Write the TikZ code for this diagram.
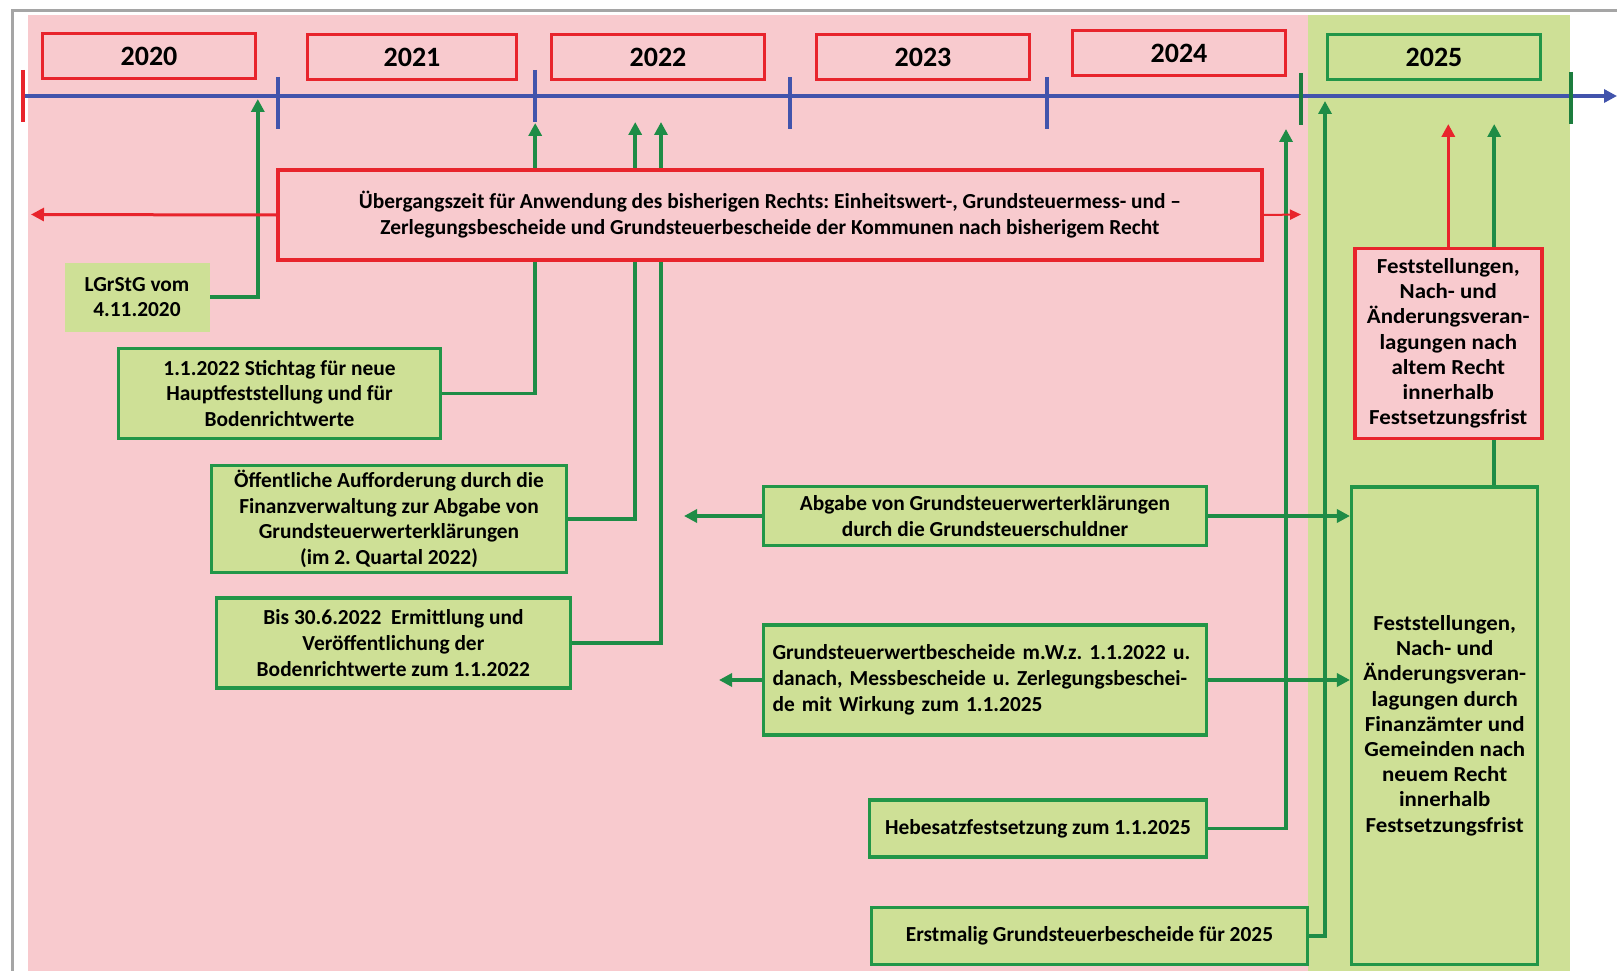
\documentclass[tikz,border=0pt]{standalone}
\usepackage{fontspec}
\setmainfont{Carlito}
\usetikzlibrary{arrows.meta,positioning,backgrounds}
\definecolor{bgpink}{RGB}{248,202,206}
\definecolor{bggreen}{RGB}{206,224,150}
\definecolor{boxred}{RGB}{232,36,44}
\definecolor{boxgreen}{RGB}{34,150,72}
\definecolor{linegreen}{RGB}{30,140,70}
\definecolor{tickgreen}{RGB}{28,125,62}
\definecolor{lineblue}{RGB}{66,84,172}
\definecolor{framegray}{RGB}{165,165,165}
\frenchspacing

\begin{document}
\begin{tikzpicture}[x=1pt,y=-1pt,>={Triangle[length=13pt,width=13pt]},font=\bfseries\fontsize{21.4}{25.8}\selectfont]
        \tikzstyle{yearbox} = [draw=boxred, line width=3.5pt, minimum width=213pt, minimum height=45pt, font=\bfseries\fontsize{28}{30}\selectfont]
        \tikzstyle{redbox} = [draw=boxred, fill=bgpink, line width=3.5pt, align=center, inner sep=0pt]
        \tikzstyle{greenbox} = [draw=boxgreen, fill=bggreen, line width=3.5pt, align=center, inner sep=0pt]
        \tikzstyle{widetext} = [font=\bfseries\fontsize{21.4}{25.2}\selectfont\addfontfeature{FakeStretch=1.07}]
        \tikzstyle{link} = [draw=linegreen, line width=3.5pt]
        \tikzstyle{redlink} = [draw=boxred, line width=3pt]

        \useasboundingbox (0,0) rectangle (1617,971);

        % Background
        \begin{scope}[on background layer]
            \fill[bgpink] (27.8,15.5) rectangle (1307.6,971);
            \fill[bggreen] (1307.6,15.5) rectangle (1569.5,971);
        \end{scope}
        \draw[framegray, line width=3pt] (12.4,971) -- (12.4,10.3) -- (1617,10.3);

        % Timeline
        \coordinate (tlstart) at (22.7,96);
        \coordinate (tlend) at (1617,96);
        \draw[lineblue, line width=4.5pt, ->] (tlstart) -- (tlend);
        \draw[boxred, line width=4pt] (22.7,70) -- (22.7,122);
        \draw[lineblue, line width=4pt] (278.4,77) -- (278.4,129);
        \draw[lineblue, line width=4pt] (535.2,70) -- (535.2,122);
        \draw[lineblue, line width=4pt] (789.9,77) -- (789.9,129);
        \draw[lineblue, line width=4pt] (1046.7,77) -- (1046.7,129);
        \draw[tickgreen, line width=4pt] (1301.4,73) -- (1301.4,125);
        \draw[tickgreen, line width=4pt] (1570.5,72) -- (1570.5,124);

        % Nodes
        \node[yearbox] (y2020) at (149,56) {2020};
        \node[yearbox, minimum width=209pt] (y2021) at (412,57) {2021};
        \node[yearbox] (y2022) at (658,57) {2022};
        \node[yearbox] (y2023) at (923,57) {2023};
        \node[yearbox] (y2024) at (1179,53) {2024};
        \node[yearbox, draw=boxgreen] (y2025) at (1434,57) {2025};

        \node[redbox, minimum width=984pt, minimum height=90pt] (uebergang) at (770,215)
            {Übergangszeit für Anwendung des bisherigen Rechts: Einheitswert-, Grundsteuermess- und --\\
             Zerlegungsbescheide und Grundsteuerbescheide der Kommunen nach bisherigem Recht};
        \node[fill=bggreen, align=center, inner sep=0pt, minimum width=145pt, minimum height=69pt] (lgrstg) at (137,297)
            {LGrStG vom\\4.11.2020};
        \node[greenbox, minimum width=322pt, minimum height=90pt] (stichtag) at (279.5,393.4)
            {1.1.2022 Stichtag für neue\\Hauptfeststellung und für\\Bodenrichtwerte};
        \node[greenbox, minimum width=355pt, minimum height=107pt] (aufforderung) at (389,519)
            {Öffentliche Aufforderung durch die\\Finanzverwaltung zur Abgabe von\\Grundsteuerwerterklärungen\\(im 2. Quartal 2022)};
        \node[greenbox, minimum width=354pt, minimum height=90pt] (bodenwerte) at (393.4,643)
            {Bis 30.6.2022\ \ Ermittlung und\\Veröffentlichung der\\Bodenrichtwerte zum 1.1.2022};
        \node[greenbox, minimum width=443pt, minimum height=59pt] (abgabe) at (985,516)
            {Abgabe von Grundsteuerwerterklärungen\\durch die Grundsteuerschuldner};
        \node[greenbox, align=left, inner xsep=9pt, text width=425pt, minimum height=110pt] (bescheide) at (985,680)
            {Grundsteuerwertbescheide m.W.z. 1.1.2022 u.\\danach, Messbescheide u. Zerlegungsbeschei-\\de mit Wirkung zum 1.1.2025};
        \node[greenbox, minimum width=337pt, minimum height=57pt] (hebesatz) at (1038,828.6)
            {Hebesatzfestsetzung zum 1.1.2025};
        \node[greenbox, minimum width=436pt, minimum height=57pt] (erstmalig) at (1089.5,935.8)
            {Erstmalig Grundsteuerbescheide für 2025};
        \node[redbox, widetext, minimum width=187pt, minimum height=190pt] (altrecht) at (1448.3,343.4)
            {Feststellungen,\\Nach- und\\Änderungsveran-\\lagungen nach\\altem Recht\\innerhalb\\Festsetzungsfrist};
        \node[greenbox, widetext, minimum width=186pt, minimum height=477.5pt] (neurecht) at (1444.7,725.5)
            {Feststellungen,\\Nach- und\\Änderungsveran-\\lagungen durch\\Finanzämter und\\Gemeinden nach\\neuem Recht\\innerhalb\\Festsetzungsfrist};

        % Arrow ends
        \coordinate (tip2020) at (257.8,99);
        \coordinate (tip2022a) at (535.2,123);
        \coordinate (tip2022b) at (635.2,122);
        \coordinate (tip2022c) at (661,122);
        \coordinate (tip2024) at (1286,129);
        \coordinate (tip2025a) at (1325,101);
        \coordinate (tip2025b) at (1448.3,124);
        \coordinate (tip2025c) at (1494.2,124);
        \coordinate (ueleft) at (31,214.5);
        \coordinate (ueright) at (1301,214.5);
        \coordinate (abgleft) at (684,516);
        \coordinate (besleft) at (719,680);

        % Edges
        \draw[redlink, ->] (uebergang.west) -- (ueleft);
        \draw[redlink, line width=2pt, -{Triangle[length=11pt,width=10pt]}] (uebergang.east) -- (ueright);
        \draw[redlink, line width=3.5pt, ->] (altrecht.north) -- (tip2025b);
        \draw[link, ->] (abgabe.west) -- (abgleft);
        \draw[link, ->] (bescheide.west) -- (besleft);
        \draw[link, ->] (abgabe.east) -- (abgabe.east -| neurecht.west);
        \draw[link, ->] (bescheide.east) -- (bescheide.east -| neurecht.west);
        \begin{scope}[on background layer]
            \draw[link, ->] (lgrstg.east) -| (tip2020);
            \draw[link, ->] (stichtag.east) -| (tip2022a);
            \draw[link, ->] (aufforderung.east) -| (tip2022b);
            \draw[link, ->] (bodenwerte.east) -| (tip2022c);
            \draw[link, ->] (hebesatz.east) -| (tip2024);
            \draw[link, ->] (erstmalig.east) -| (tip2025a);
            \draw[link, ->] (neurecht.north -| tip2025c) -- (tip2025c);
        \end{scope}
\end{tikzpicture}
\end{document}
